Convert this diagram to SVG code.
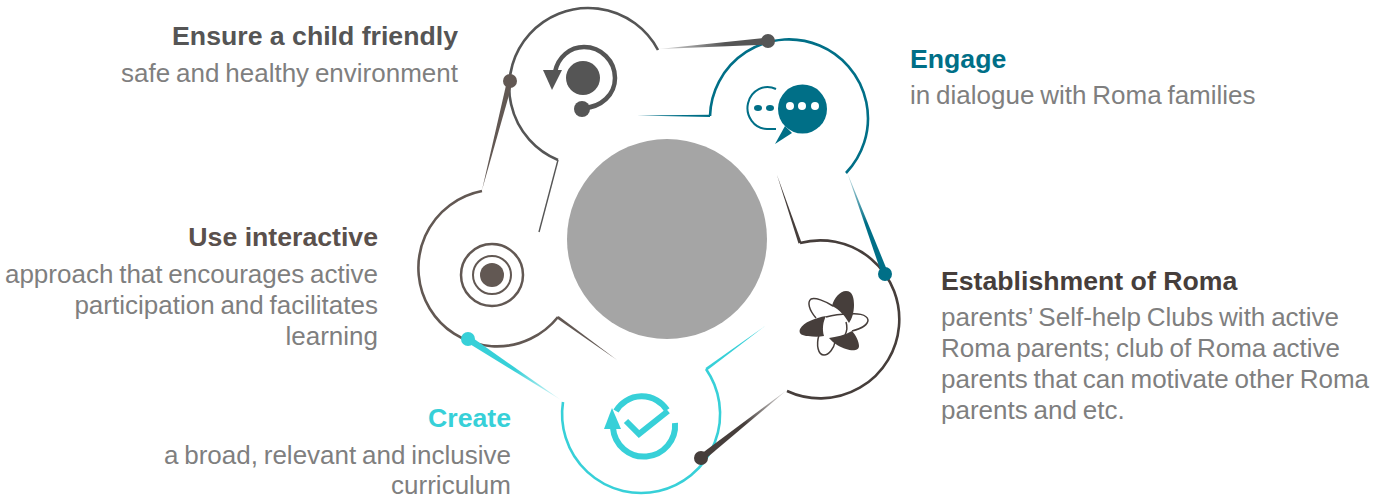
<svg xmlns="http://www.w3.org/2000/svg" width="1388" height="499" viewBox="0 0 1388 499">
<style>
text{font-family:"Liberation Sans",Arial,sans-serif}
.h{font-size:26.67px;font-weight:700}
.s{font-size:26px;fill:#7f7f7f;word-spacing:-1.4px}
.e{text-anchor:end}
.ring{fill:none;stroke-width:2.6}
.thin{fill:none;stroke-width:1.4}
</style>
<defs>
<linearGradient id="g1" gradientUnits="userSpaceOnUse" x1="659" y1="49" x2="768" y2="41"><stop offset="0" stop-color="#555" stop-opacity=".2"/><stop offset=".6" stop-color="#555"/></linearGradient>
<linearGradient id="g2" gradientUnits="userSpaceOnUse" x1="847" y1="172" x2="885" y2="274"><stop offset="0" stop-color="#006f87" stop-opacity=".2"/><stop offset=".5" stop-color="#006f87"/></linearGradient>
<linearGradient id="g3" gradientUnits="userSpaceOnUse" x1="787" y1="390" x2="701" y2="458"><stop offset="0" stop-color="#463e3b" stop-opacity=".15"/><stop offset=".5" stop-color="#463e3b"/></linearGradient>
<linearGradient id="g4" gradientUnits="userSpaceOnUse" x1="561" y1="400" x2="468" y2="339"><stop offset="0" stop-color="#37d0d8" stop-opacity=".15"/><stop offset=".5" stop-color="#37d0d8"/></linearGradient>
</defs>
<circle id="hub" cx="667" cy="239" r="100" fill="#a5a5a5"/>
<g id="node-child" stroke="#555">
<path class="ring" d="M658,50A79,79 0 1 0 558,160"/>
<path class="thin" d="M558,160L539,232"/>
<circle cx="583" cy="78" r="17" fill="#555" stroke="none"/>
<path d="M584,108C601,107 615,95 615,78A31,31 0 0 0 584,47C570,47 558,57 555,72" fill="none" stroke-width="4.5"/>
<circle cx="582" cy="109" r="8" fill="#555" stroke="none"/>
<path d="M543,70H562L552,90Z" fill="#555" stroke="none"/>
<text class="h e" x="458" y="45" fill="#555" stroke="none">Ensure a child friendly</text>
<text class="s e" x="458" y="82" stroke="none">safe and healthy environment</text>
</g>
<g id="node-engage" stroke="#006f87">
<path class="ring" d="M710,116A79,79 0 1 1 846,173"/>
<path d="M637,115.5L710,114.8V117Z" fill="#006f87" stroke="none"/>
<circle cx="802.5" cy="109" r="24.5" fill="#006f87" stroke="none"/>
<path d="M785,126L775,144L792,133Z" fill="#006f87" stroke="none"/>
<circle cx="790" cy="106" r="4" fill="#fff" stroke="none"/><circle cx="802" cy="106" r="4" fill="#fff" stroke="none"/><circle cx="815" cy="106" r="4" fill="#fff" stroke="none"/>
<path d="M776,89A20,21 0 1 0 767,129L776,129" fill="none" stroke-width="2"/>
<ellipse cx="758" cy="108" rx="4" ry="3" fill="#006f87" stroke="none"/><ellipse cx="770" cy="108" rx="4" ry="3" fill="#006f87" stroke="none"/>
<text class="h" x="910" y="68" fill="#006f87" stroke="none">Engage</text>
<text class="s" x="910" y="104" stroke="none">in dialogue with Roma families</text>
</g>
<g id="node-roma" stroke="#463e3b">
<path class="ring" d="M800,243A79,79 0 1 1 787,391"/>
<path d="M777,175L801.5,242.5L798.5,243.5Z" fill="#463e3b" stroke="none"/>
<g fill="none" stroke-width="1.5">
<path d="M833,306C825,301 815,297 811,299C807,302 809,310 816,318M826,317C833,315 841,314 849,314C856,313 867,314 868,320C868,325 860,329 852,331M846,322C848,328 846,333 845,335M819,335C816,345 818,355 824,355C829,355 834,348 835,342"/>
</g>
<path d="M832,306C834,298 840,291 846,291C853,291 854,299 854,305C854,312 852,319 849,323C845,316 840,310 832,306Z" fill="#463e3b" stroke="none"/>
<path d="M826,316C815,318 804,322 800,329C798,334 803,336 808,336C814,337 819,337 824,336C822,329 823,322 826,316Z" fill="#463e3b" stroke="none"/>
<path d="M829,338C836,337 845,335 852,331C856,335 859,342 859,346C859,351 852,351 846,349C840,347 834,344 829,338Z" fill="#463e3b" stroke="none"/>
<text class="h" x="941" y="290" fill="#463e3b" stroke="none">Establishment of Roma</text>
<text class="s" x="941" y="326" stroke="none">parents’ Self-help Clubs with active</text>
<text class="s" x="941" y="357" stroke="none">Roma parents; club of Roma active</text>
<text class="s" x="941" y="388" stroke="none">parents that can motivate other Roma</text>
<text class="s" x="941" y="419" stroke="none">parents and etc.</text>
</g>
<g id="node-create" stroke="#37d0d8">
<path class="ring" d="M706,369A79,79 0 1 1 563,402"/>
<path d="M765,326L705.5,368L707,370.5Z" fill="#37d0d8" stroke="none"/>
<path d="M616,411A30,30 0 0 1 667,410M675,423A31,31 0 1 1 613,428" fill="none" stroke-width="6"/>
<path d="M612,408L604,429H621Z" fill="#37d0d8" stroke="none"/>
<path d="M626,421L639,434L668,411" fill="none" stroke-width="6"/>
<text class="h e" x="511" y="427" fill="#37d0d8" stroke="none">Create</text>
<text class="s e" x="511" y="464" stroke="none">a broad, relevant and inclusive</text>
<text class="s e" x="511" y="494" stroke="none">curriculum</text>
</g>
<g id="node-interactive" stroke="#625853">
<path class="ring" d="M482,191A78.4,78.4 0 1 0 558,317"/>
<path d="M617,360L558.5,316L557,318.5Z" fill="#625853" stroke="none"/>
<circle cx="492" cy="275" r="12" fill="#625853" stroke="none"/>
<circle cx="492" cy="275" r="19" fill="none" stroke-width="2"/>
<circle cx="492" cy="275" r="31" fill="none" stroke-width="2.5"/>
<text class="h e" x="378" y="246" fill="#5a504c" stroke="none">Use interactive</text>
<text class="s e" x="378" y="283" stroke="none">approach that encourages active</text>
<text class="s e" x="378" y="314" stroke="none">participation and facilitates</text>
<text class="s e" x="378" y="345" stroke="none">learning</text>
</g>
<g id="connectors">
<path d="M659,49L768,37.5V44.5Z" fill="url(#g1)"/><circle cx="768" cy="41" r="7" fill="#555"/>
<path d="M847,172L888,272.5L882,275Z" fill="url(#g2)"/><circle cx="885" cy="274" r="7" fill="#006f87"/>
<path d="M787,390L703,461L699,455.5Z" fill="url(#g3)"/><circle cx="701" cy="458" r="7" fill="#463e3b"/>
<path d="M561,400L466.5,342L470,336Z" fill="url(#g4)"/><circle cx="468" cy="339" r="7" fill="#37d0d8"/>
<path d="M482,190L507,81H513Z" fill="#625853"/><circle cx="510" cy="81" r="7" fill="#625853"/>
</g>
</svg>
